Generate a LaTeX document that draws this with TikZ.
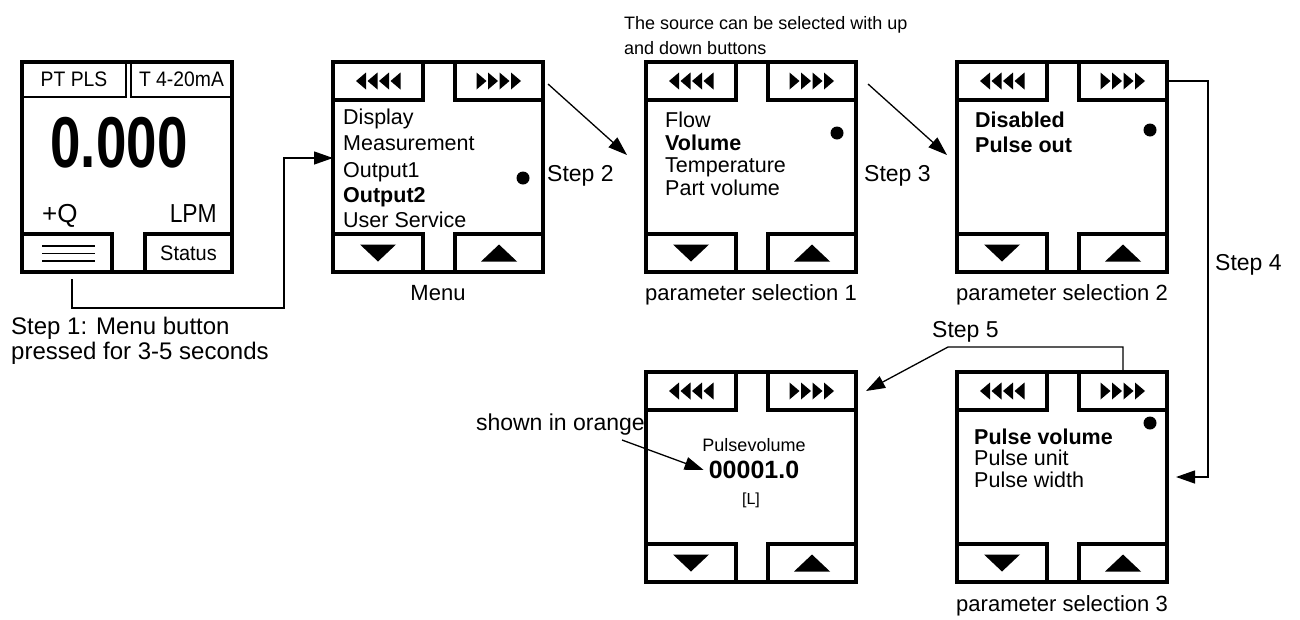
\documentclass[tikz,border=0pt]{standalone}
\usepackage{fontspec}
\usepackage{graphicx}
\setmainfont{Liberation Sans}
\usetikzlibrary{arrows.meta}
\newcommand\fs[1]{\fontsize{#1}{#1}\selectfont}
\tikzset{
 scr/.style={draw, line width=4pt, minimum width=210pt, minimum height=210pt, inner sep=0pt, outer sep=0pt},
 btn/.style={draw, line width=4pt, minimum height=38pt, inner sep=0pt, outer sep=0pt},
 thinbox/.style={draw, line width=1.3pt, minimum height=35pt, inner sep=0pt, outer sep=0pt, font=\fs{21}},
 conn/.style={line width=1.3pt},
 arr/.style={conn, -{Triangle[length=19pt,width=13pt]}},
 dot/.style={circle, fill, minimum size=13pt, inner sep=0pt},
 item/.style={anchor=base west, inner sep=0pt, font=\fs{21.5}},
 bitem/.style={item, font=\fs{21.5}\bfseries},
 lbl/.style={anchor=base, inner sep=0pt, font=\fs{22}},
 steplbl/.style={anchor=base west, inner sep=0pt, font=\fs{23}},
 lefttris/.pic={\foreach \i in {0,1,2,3}{\fill ({-22+11.5*\i},0) -- ({-12+11.5*\i},-8.5) -- ({-12+11.5*\i},8.5) -- cycle;}},
 righttris/.pic={\foreach \i in {0,1,2,3}{\fill ({22-11.5*\i},0) -- ({12-11.5*\i},-8.5) -- ({12-11.5*\i},8.5) -- cycle;}},
 downtri/.pic={\fill (-18,-8.5) -- (18,-8.5) -- (0,8.5) -- cycle;},
 uptri/.pic={\fill (-18,8.5) -- (18,8.5) -- (0,-8.5) -- cycle;},
}
\newcommand\mkscreen[3]{%
  \node[scr] (#1) at ({#2+105},{#3+105}) {};
  \node[btn, minimum width=90pt, anchor=north west] (#1tl) at (#2,#3) {};
  \node[btn, minimum width=88pt, anchor=north east] (#1tr) at ({#2+210},#3) {};
  \node[btn, minimum width=90pt, anchor=south west] (#1bl) at (#2,{#3+210}) {};
  \node[btn, minimum width=88pt, anchor=south east] (#1br) at ({#2+210},{#3+210}) {};
  \pic at (#1tl.center) {lefttris};
  \pic at (#1tr.center) {righttris};
  \pic at (#1bl.center) {downtri};
  \pic at (#1br.center) {uptri};
}
\begin{document}
\begin{tikzpicture}[x=1pt,y=-1pt]
\useasboundingbox (0,0) rectangle (1300,619);
% first display
\node[scr] (A) at (127,167) {};
\node[thinbox, minimum width=104pt, anchor=north west] (Apt) at (22,62) {\scalebox{0.92}[1]{PT PLS}};
\node[thinbox, minimum width=101pt, anchor=north east] (Ama) at (232,62) {\scalebox{0.92}[1]{T 4-20mA}};
\node[font=\bfseries\fs{72}, inner sep=0pt] (Aval) at (119,143) {\scalebox{0.76}[1]{0.000}};
\node[anchor=base west, inner sep=0pt, font=\fs{26}] (Aq) at (42,222) {+Q};
\node[anchor=base east, inner sep=0pt, font=\fs{26}] (Alpm) at (217,222) {\scalebox{0.88}[1]{LPM}};
\node[btn, minimum width=90pt, anchor=south west] (Abl) at (22,272) {};
\node[btn, minimum width=87pt, anchor=south east, font=\fs{21}] (Abr) at (232,272) {\scalebox{0.95}[1]{Status}};
\draw[line width=1.3pt] (42,246) -- (95,246) (42,253.5) -- (95,253.5) (42,261) -- (95,261);
% screens
\mkscreen{B}{333}{62}
\mkscreen{C}{646}{62}
\mkscreen{D}{957}{62}
\mkscreen{E}{646}{372}
\mkscreen{F}{957}{372}
% dots
\node[dot] (Bdot) at (523,178) {};
\node[dot] (Cdot) at (837,133) {};
\node[dot] (Ddot) at (1150,130) {};
\node[dot] (Fdot) at (1150,423) {};
% list texts
\node[item] (b1) at (343,124.5) {Display};
\node[item] (b2) at (343,150.5) {Measurement};
\node[item] (b3) at (343,177.5) {Output1};
\node[bitem] (b4) at (343,202.5) {Output2};
\node[item] (b5) at (343,227.5) {User Service};
\node[item] (c1) at (665,127.5) {Flow};
\node[bitem] (c2) at (665,150.5) {Volume};
\node[item] (c3) at (665,172.5) {Temperature};
\node[item] (c4) at (665,195.5) {Part volume};
\node[bitem] (d1) at (975,127.5) {Disabled};
\node[bitem] (d2) at (975,152.5) {Pulse out};
\node[bitem] (f1) at (974,444.5) {Pulse volume};
\node[item] (f2) at (974,465.5) {Pulse unit};
\node[item] (f3) at (974,487.5) {Pulse width};
\node[inner sep=0pt, font=\fs{18}] (Ename) at (754,445) {Pulsevolume};
\node[inner sep=0pt, font=\fs{25}\bfseries] (Eval) at (754,470) {00001.0};
\node[inner sep=0pt, font=\fs{16}] (Eunit) at (751,500) {[L]};
% labels
\node[lbl] (lm) at (438,300) {Menu};
\node[lbl] (l1) at (751,300) {parameter selection 1};
\node[lbl] (l2) at (1062,300) {parameter selection 2};
\node[lbl] (l3) at (1062,611) {parameter selection 3};
\node[anchor=base west, inner sep=0pt, font=\fs{18}] (note1) at (624,29.5) {The source can be selected with up};
\node[anchor=base west, inner sep=0pt, font=\fs{18}] (note2) at (624,54.5) {and down buttons};
\node[anchor=base west, inner sep=0pt, font=\fs{24}] (s1t) at (11,334) {Step 1: Menu button};
\node[anchor=base west, inner sep=0pt, font=\fs{24}] (s1u) at (11,359) {pressed for 3-5 seconds};
\node[steplbl] (s2t) at (547,181) {Step 2};
\node[steplbl] (s3t) at (864,181) {Step 3};
\node[steplbl] (s4t) at (1215,270) {Step 4};
\node[steplbl] (s5t) at (932,337) {Step 5};
\node[anchor=base east, inner sep=0pt, font=\fs{23}] (ort) at (645,430) {shown in orange};
% connectors
\coordinate (s1) at (72,279);
\coordinate (s1c) at (284,308);
\draw[arr] (s1) |- (s1c) |- ([yshift=9pt]B.west);
\draw[arr] ([xshift=5pt,yshift=-3pt]Btr.east) -- ([xshift=-19pt,yshift=12pt]C.west);
\draw[arr] ([xshift=12pt,yshift=-3pt]Ctr.east) -- ([xshift=-10pt,yshift=12pt]D.west);
\draw[arr] (Dtr.east) -- ++(41,0) |- ([xshift=9pt]F.east);
\draw[arr] (Ftr.north) -- ++(0,-25) -- ++(-175,0) -- ([xshift=10pt]Etr.east);
\coordinate (o1) at (622,440);
\draw[arr] (o1) -- ([xshift=-5pt]Eval.west);
\end{tikzpicture}
\end{document}
